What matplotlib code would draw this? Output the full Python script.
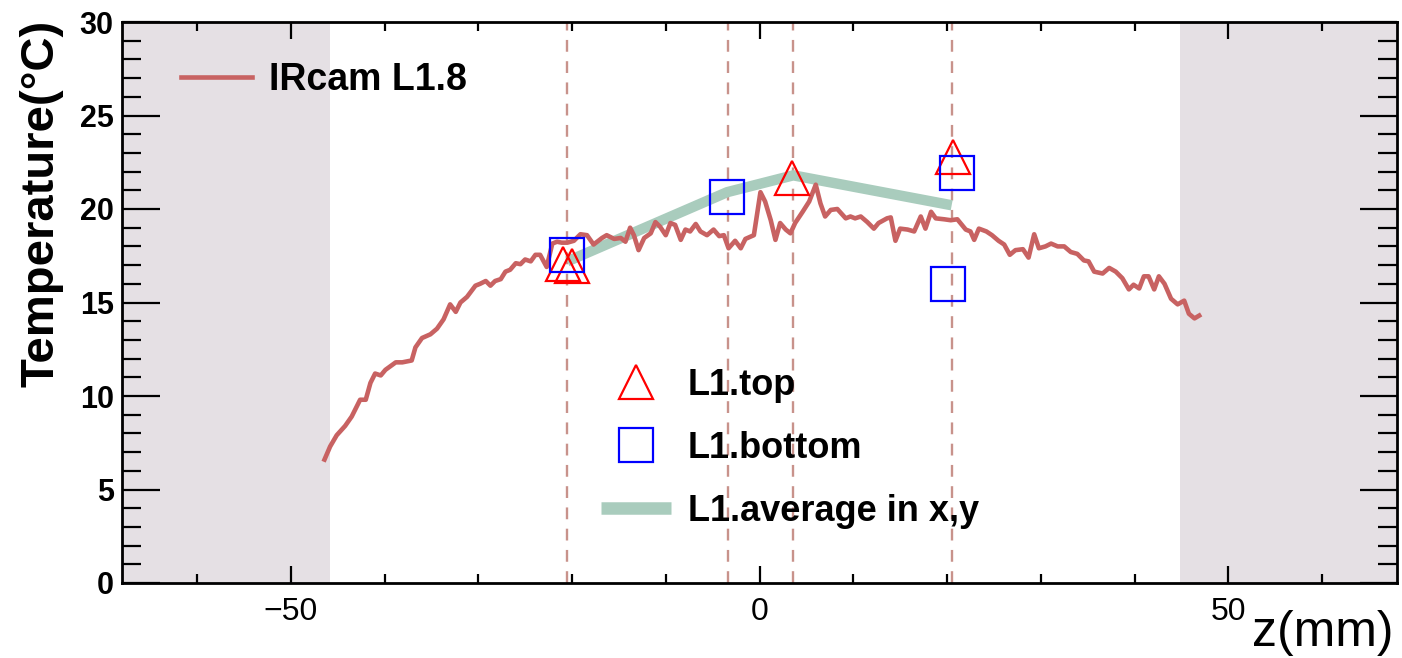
import matplotlib
matplotlib.use("Agg")
import matplotlib.pyplot as plt
from matplotlib.lines import Line2D
import numpy as np

plt.rcParams['font.family'] = ['Liberation Sans', 'DejaVu Sans']

# IR camera profile
ir_z = [-46.4, -45.8, -45.1, -44.2, -43.5, -42.6, -42.0, -41.5, -41.0, -40.4, -39.9, -38.8,
        -38.1, -37.1, -36.7, -36.0, -35.1, -34.4, -33.7, -33.0, -32.4, -31.9, -31.2, -30.3,
        -29.8, -29.2, -28.7, -28.2, -27.6, -27.1, -26.6, -26.0, -25.5, -25.0, -24.4, -23.9,
        -23.4, -22.7, -22.1, -21.6, -21.1, -20.5, -19.8, -19.1, -18.4, -17.7, -16.8, -16.3,
        -15.5, -14.8, -14.3, -13.8, -13.4, -12.9, -12.3, -11.6, -11.1, -10.6, -10.0, -9.5,
        -9.0, -8.4, -7.9, -7.4, -6.8, -6.3, -5.6, -4.9, -4.3, -3.8, -3.3, -2.6, -2.0, -1.5,
        -0.6, 0.1, 0.6, 1.2, 1.7, 2.2, 2.8, 3.3, 3.8, 4.6, 5.3, 6.0, 6.5, 7.0, 7.6, 8.3,
        9.2, 9.7, 10.2, 10.8, 11.5, 12.2, 12.7, 13.6, 14.0, 14.5, 15.0, 15.8, 16.5, 17.2,
        17.7, 18.3, 18.8, 19.7, 20.4, 21.1, 22.0, 22.5, 22.9, 23.4, 24.2, 24.8, 25.5, 26.1,
        26.7, 27.3, 28.1, 28.7, 29.3, 29.8, 30.5, 31.1, 31.8, 32.5, 33.2, 33.9, 34.6, 35.1,
        35.7, 36.6, 37.3, 38.0, 38.7, 39.4, 39.9, 40.5, 41.0, 41.5, 42.1, 42.6, 43.2, 43.9,
        44.6, 45.3, 45.8, 46.4, 46.9]
ir_t = [6.6, 7.3, 7.9, 8.4, 8.9, 9.8, 9.8, 10.7, 11.2, 11.1, 11.4, 11.8,
        11.8, 11.9, 12.6, 13.1, 13.3, 13.6, 14.1, 14.9, 14.5, 15.0, 15.3, 15.9,
        16.0, 16.15, 15.9, 16.15, 16.25, 16.65, 16.75, 17.1, 17.05, 17.3, 17.2, 17.55,
        17.55, 16.9, 18.15, 18.25, 18.2, 18.2, 18.3, 18.65, 18.6, 18.1, 18.45, 18.6,
        18.4, 18.45, 18.25, 19.0, 18.6, 17.8, 18.45, 18.7, 19.3, 19.05, 18.6, 19.25,
        19.15, 18.35, 18.9, 18.8, 19.2, 18.8, 18.6, 18.9, 18.55, 18.6, 17.9, 18.3, 17.9, 18.4,
        18.6, 20.9, 20.4, 19.4, 18.35, 19.25, 18.9, 18.7, 19.25, 19.85, 20.4, 21.3, 20.3, 19.6, 19.95, 20.0,
        19.5, 19.6, 19.5, 19.6, 19.3, 18.95, 19.25, 19.5, 19.55, 18.3, 18.95, 18.9, 18.8, 19.6,
        18.95, 19.85, 19.5, 19.45, 19.4, 19.45, 18.9, 18.8, 18.35, 18.95, 18.8, 18.6, 18.3, 18.1,
        17.55, 17.8, 17.85, 17.4, 18.65, 17.9, 18.0, 18.15, 18.0, 18.0, 17.7, 17.6, 17.25, 17.2,
        16.65, 16.55, 16.85, 16.65, 16.3, 15.7, 15.95, 15.75, 16.4, 16.4, 15.7, 16.4, 16.0, 15.2,
        14.9, 15.1, 14.4, 14.15, 14.3]

# sensor readings
top_z = [-21.0, -20.0, 3.5, 20.6]
top_t = [17.05, 16.95, 21.65, 22.8]
bot_z = [-20.5, -3.45, 20.1, 21.1]
bot_t = [17.55, 20.65, 16.0, 21.9]
avg_z = [-20.5, -3.45, 3.6, 20.5]
avg_t = [17.2, 20.9, 21.8, 20.2]

sensor_z = [-20.5, -3.4, 3.6, 20.5]
shade_left = (-68, -45.8)
shade_right = (44.8, 68)

RED = '#c86262'
GREEN = '#a9ccbd'
SHADE = '#e5e0e4'
DASH = '#c8928b'

fig = plt.figure(figsize=(14.02, 6.58), dpi=100)
ax = fig.add_axes([122/1402, 75/658, (1397-122)/1402, (583-22)/658])

ax.axvspan(*shade_left, color=SHADE, lw=0, zorder=0)
ax.axvspan(*shade_right, color=SHADE, lw=0, zorder=0)
for zz in sensor_z:
    ax.axvline(zz, color=DASH, lw=1.7, ls=(0, (5, 4)), zorder=1)

h_avg, = ax.plot(avg_z, avg_t, color=GREEN, lw=7.5, solid_capstyle='butt', zorder=2)
h_ir, = ax.plot(ir_z, ir_t, color=RED, lw=3.3, zorder=3)
h_top, = ax.plot(top_z, top_t, ls='none', marker='^', ms=24, mfc='none', mec='red', mew=1.6, zorder=4)
h_bot, = ax.plot(bot_z, bot_t, ls='none', marker='s', ms=24, mfc='none', mec='blue', mew=1.6, zorder=4)

ax.set_xlim(-68, 68)
ax.set_ylim(0, 30)
ax.set_xticks([-50, 0, 50])
ax.set_xticks(np.arange(-60, 61, 10), minor=True)
ax.set_yticks(np.arange(0, 31, 5))
ax.set_yticks(np.arange(0, 31, 1), minor=True)
ax.tick_params(axis='both', which='both', direction='in', top=True, right=True, width=1.6, color='black')
ax.tick_params(axis='y', which='major', length=27, pad=6, labelsize=22)
ax.tick_params(axis='y', which='minor', length=13.5)
ax.tick_params(axis='x', which='major', length=12.5, pad=10, labelsize=23)
ax.tick_params(axis='x', which='minor', length=6.5)
for lab in ax.get_yticklabels():
    lab.set_fontweight('bold')
for s in ax.spines.values():
    s.set_linewidth(2)

fig.text(42/1402, 1 - 20/658, 'Temperature(°C)', rotation=90, ha='center', va='top',
         fontsize=34, fontweight='bold')
fig.text(1394/1402, 1 - 633/658, 'z(mm)', ha='right', va='center', fontsize=36)

leg1 = ax.legend([h_ir], ['IRcam L1.8'], loc='center left', bbox_to_anchor=(181/1402, 1 - 80/658),
                 bbox_transform=fig.transFigure, frameon=False, handlelength=1.9, handletextpad=0.45,
                 borderpad=0, borderaxespad=0, prop={'size': 27, 'weight': 'bold'})
ax.add_artist(leg1)
leg2 = ax.legend([h_top, h_bot, Line2D([], [], color=GREEN, lw=9, solid_capstyle='butt')],
                 ['L1.top', 'L1.bottom', 'L1.average in x,y'],
                 loc='upper left', bbox_to_anchor=(601/1402, 1 - 368/658),
                 bbox_transform=fig.transFigure, frameon=False, handlelength=1.95, handletextpad=0.45,
                 borderpad=0, borderaxespad=0, labelspacing=0.77, numpoints=1, markerscale=1.0,
                 prop={'size': 26, 'weight': 'bold'})

fig.savefig('out.png', dpi=100)
